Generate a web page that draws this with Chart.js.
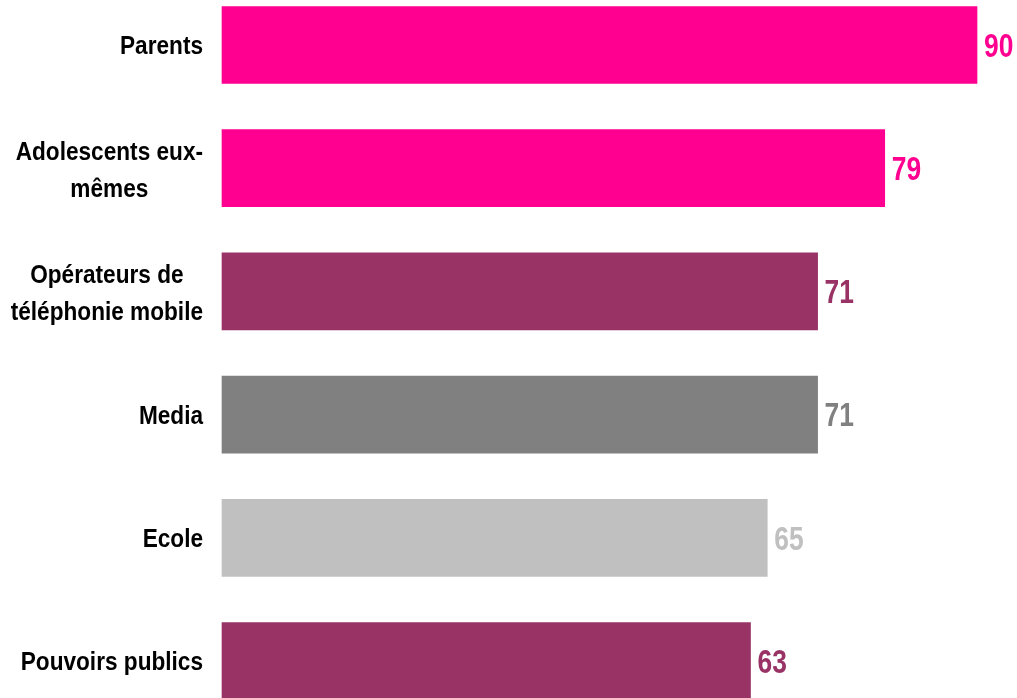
<!DOCTYPE html>
<html>
<head>
<meta charset="utf-8">
<script src="https://cdn.jsdelivr.net/npm/chart.js@4/dist/chart.umd.min.js"></script>
<style>
  html, body { margin: 0; padding: 0; background: #ffffff; }
  #wrap { width: 1017px; height: 698px; position: relative; }
</style>
</head>
<body>
<div id="wrap"><canvas id="chart"></canvas></div>
<script>
// Categories (each entry split into its display lines)
const categories = [
  ['Parents'],
  ['Adolescents eux-', 'mêmes'],
  ['Opérateurs de', 'téléphonie mobile'],
  ['Media'],
  ['Ecole'],
  ['Pouvoirs publics']
];
// Percentages
const values = [90, 79, 71, 71, 65, 63];
// Bar / label colours
const barColors = ['#FF0090', '#FF0090', '#993366', '#808080', '#C0C0C0', '#993366'];

const FONT = '"Liberation Sans", Arial, Helvetica, sans-serif';

// Draws condensed bold category names on the left and value labels after each bar
const labelPlugin = {
  id: 'labels',
  afterDatasetsDraw(chart) {
    const ctx = chart.ctx;
    const meta = chart.getDatasetMeta(0);
    const yScale = chart.scales.y;
    const sx = 0.87;

    // category names
    const catSize = 26;
    const capH = catSize * 0.716;
    const lineGap = 37;
    const rightEdge = 203;
    ctx.save();
    ctx.fillStyle = '#000000';
    ctx.font = 'bold ' + catSize + 'px ' + FONT;
    ctx.textBaseline = 'alphabetic';
    ctx.textAlign = 'center';
    categories.forEach((lines, i) => {
      const cy = yScale.getPixelForValue(i);
      const widths = lines.map(l => ctx.measureText(l).width * sx);
      const maxW = Math.max(...widths);
      const cx = rightEdge - maxW / 2;
      const n = lines.length;
      lines.forEach((line, j) => {
        const base = cy + (j - (n - 1) / 2) * lineGap + capH / 2 + (n > 1 ? 1 : 0);
        ctx.save();
        ctx.translate(cx, base);
        ctx.scale(sx, 1);
        ctx.fillText(line, 0, 0);
        ctx.restore();
      });
    });
    ctx.restore();

    // value labels
    const valSize = 33;
    ctx.save();
    ctx.font = 'bold ' + valSize + 'px ' + FONT;
    ctx.textAlign = 'left';
    ctx.textBaseline = 'alphabetic';
    meta.data.forEach((bar, i) => {
      ctx.save();
      ctx.fillStyle = barColors[i];
      ctx.translate(bar.x + 7, bar.y + valSize * 0.716 / 2);
      ctx.scale(0.8, 1);
      ctx.fillText(String(values[i]), 0, 0);
      ctx.restore();
    });
    ctx.restore();
  }
};

new Chart(document.getElementById('chart'), {
  type: 'bar',
  data: {
    labels: categories.map(l => l.join(' ')),
    datasets: [{
      data: values,
      backgroundColor: barColors,
      borderWidth: 0,
      barThickness: 77,
      clip: false
    }]
  },
  options: {
    indexAxis: 'y',
    responsive: true,
    maintainAspectRatio: false,
    animation: false,
    devicePixelRatio: 1,
    layout: { padding: { left: 222, right: 40, top: 45, bottom: 37 } },
    scales: {
      x: { display: false, min: 0, max: 90 },
      y: { display: false, offset: false, grid: { display: false } }
    },
    plugins: {
      legend: { display: false },
      tooltip: { enabled: false }
    }
  },
  plugins: [labelPlugin]
});
</script>
</body>
</html>
